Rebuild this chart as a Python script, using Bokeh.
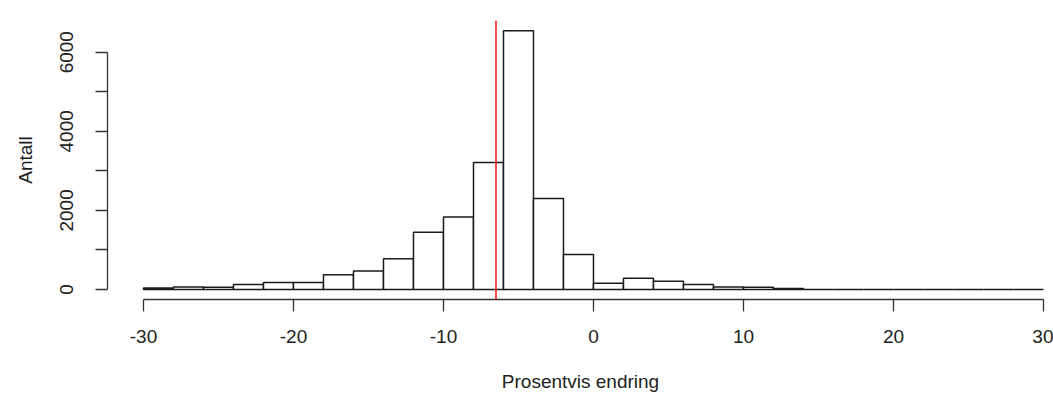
from bokeh.plotting import figure
from bokeh.models import FixedTicker, Span, Range1d
from bokeh.embed import file_html
from bokeh.resources import INLINE

# Histogram of percentage change (bins of width 2 from -30 to 30)
bin_left = [-30, -28, -26, -24, -22, -20, -18, -16, -14, -12, -10, -8, -6, -4, -2,
            0, 2, 4, 6, 8, 10, 12, 14, 16, 18, 20, 22, 24, 26, 28]
counts = [40, 60, 55, 125, 180, 175, 375, 465, 775, 1450, 1830, 3210, 6540, 2300, 885,
          155, 285, 210, 125, 65, 55, 25, 0, 0, 0, 0, 0, 0, 0, 0]
bin_width = 2
mean_line = -6.5
x_ticks = [-30, -20, -10, 0, 10, 20, 30]
x_tick_labels = ["-30", "-20", "-10", "0", "10", "20", "30"]
y_ticks = [0, 2000, 4000, 6000]
y_minor = [1000, 3000, 5000]
x_label = "Prosentvis endring"
y_label = "Antall"

bin_right = [b + bin_width for b in bin_left]
bottoms = [0] * len(counts)

FONT = "Liberation Sans"
FS = "19px"

p = figure(width=1053, height=394, output_backend="svg", toolbar_location=None,
           x_range=Range1d(-32.4, 30.67), y_range=Range1d(-253, 6802),
           min_border_left=107, min_border_right=0, min_border_top=20, min_border_bottom=95)
p.outline_line_color = None
p.xgrid.grid_line_color = None
p.ygrid.grid_line_color = None
p.background_fill_color = "white"
p.border_fill_color = "white"

p.quad(left=bin_left, right=bin_right, top=counts, bottom=bottoms,
       fill_color="white", line_color="#1a1a1a", line_width=1.5)

p.add_layout(Span(location=mean_line, dimension="height", line_color="#e8141b", line_width=1.5))

for ax in (p.xaxis[0], p.yaxis[0]):
    ax.axis_line_color = "#333333"
    ax.axis_line_width = 1.3
    ax.major_tick_line_color = "#333333"
    ax.major_tick_line_width = 1.3
    ax.major_tick_in = 0
    ax.major_tick_out = 12
    ax.major_label_text_font = FONT
    ax.major_label_text_font_size = FS
    ax.major_label_text_color = "#222222"
    ax.axis_label_text_font = FONT
    ax.axis_label_text_font_size = FS
    ax.axis_label_text_font_style = "normal"
    ax.axis_label_text_color = "#222222"

xa = p.xaxis[0]
xa.ticker = FixedTicker(ticks=x_ticks)
xa.major_label_overrides = {t: s for t, s in zip(x_ticks, x_tick_labels)}
xa.bounds = (-30, 30)
xa.minor_tick_line_color = None
xa.major_label_standoff = 18
xa.axis_label = x_label
xa.axis_label_standoff = 25

ya = p.yaxis[0]
ya.ticker = FixedTicker(ticks=y_ticks, minor_ticks=y_minor)
ya.bounds = (0, 6000)
ya.minor_tick_in = 0
ya.minor_tick_out = 12
ya.minor_tick_line_color = "#333333"
ya.minor_tick_line_width = 1.3
ya.major_label_orientation = "vertical"
ya.major_label_standoff = 22
ya.axis_label = y_label
ya.axis_label_standoff = 22

open("out.html", "w").write(file_html(p, INLINE))
